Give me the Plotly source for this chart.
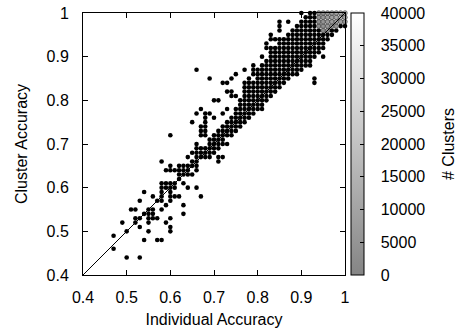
import plotly.graph_objects as go

# Individual accuracy (%) columns and the cluster accuracy (%) values seen in each column
cols = [47, 49, 50, 51, 52, 53, 54, 55, 56, 57, 58, 59, 60, 61, 62, 63, 64, 65, 66, 67,
        68, 69, 70, 71, 72, 73, 74, 75, 76, 77, 78, 79, 80, 81, 82, 83, 84, 85, 86, 87,
        88, 89, 90, 91, 92, 93, 94, 95, 96, 97, 98, 99, 100]
col_y = [
    [46, 49],
    [52],
    [44, 50],
    [55],
    [52, 53, 55],
    [44, 51, 53, 57],
    [48, 54, 59],
    [50, 52, 53, 54, 55],
    [53, 54, 55, 58],
    [48, 53, 57],
    [48, 55, 57, 58, 59, 60, 61, 66],
    [52, 56, 60, 61, 64],
    [50, 51, 53, 57, 58, 59, 60, 61, 64, 65, 72],
    [58, 60, 61, 64],
    [58, 62, 63, 64, 65],
    [54, 56, 61, 63, 64, 65],
    [60, 63, 64, 65, 67],
    [63, 65, 66, 68, 75],
    [60, 64, 65, 66, 67, 68, 69, 70, 77, 87],
    [58, 67, 68, 69, 72, 73, 74, 78],
    [67, 68, 69, 72, 73, 74, 75, 76, 77],
    [67, 68, 69, 70, 71, 77, 85],
    [68, 69, 70, 71, 72, 76, 80],
    [66, 67, 69, 70, 71, 72, 73, 80],
    [67, 70, 71, 72, 73, 74, 77, 84],
    [70, 72, 73, 74, 75, 78, 82, 84],
    [72, 73, 74, 75, 76, 81, 82, 85],
    [73, 74, 75, 76, 77, 78, 81, 86],
    [74, 75, 76, 77, 78, 79, 80],
    [75, 76, 77, 78, 79, 80, 81, 82, 83, 84, 87],
    [76, 77, 78, 79, 80, 81, 82, 83, 84, 85],
    [77, 78, 79, 80, 81, 82, 83, 84, 86, 87, 88],
    [78, 79, 80, 81, 82, 83, 84, 85, 86, 87],
    [78, 79, 80, 81, 82, 83, 84, 85, 86, 87, 88, 90],
    [80, 81, 82, 83, 84, 85, 86, 87, 88, 89, 92, 93],
    [81, 82, 83, 84, 85, 86, 87, 88, 89, 90, 91, 92, 94, 95],
    [82, 83, 84, 85, 86, 87, 88, 89, 90, 91, 92, 94],
    [83, 84, 85, 86, 87, 88, 89, 90, 91, 92, 93, 94, 96, 97, 98],
    [84, 85, 86, 87, 88, 89, 90, 91, 92, 93, 94],
    [85, 86, 87, 88, 89, 90, 91, 92, 93, 94, 95, 98],
    [86, 87, 88, 89, 90, 91, 92, 93, 94, 95, 96],
    [86, 87, 88, 89, 90, 91, 92, 93, 94, 95, 96, 97],
    [87, 88, 89, 90, 91, 92, 93, 94, 95, 96, 97, 98, 100],
    [88, 89, 90, 91, 92, 93, 94, 95, 96, 97, 98, 99],
    [88, 89, 90, 91, 92, 93, 94, 95, 96, 97, 98, 99, 100],
    [84, 85, 90, 91, 92, 93, 94, 95, 96, 97, 98, 99, 100],
    [91, 92, 93, 94, 95, 96],
    [90, 92, 93, 94, 95],
    [94, 95],
    [95, 96],
    [96],
    [97],
    [97],
]

# High-count cells (grey points near the top-right corner)
hi_x = [94, 94, 94, 94, 95, 95, 95, 95, 95, 96, 96, 96, 96, 96,
        97, 97, 97, 97, 98, 98, 98, 98, 99, 99, 99, 100, 100, 100]
hi_y = [97, 98, 99, 100, 96, 97, 98, 99, 100, 96, 97, 98, 99, 100,
        97, 98, 99, 100, 97, 98, 99, 100, 98, 99, 100, 98, 99, 100]
hi_n = [2000, 3000, 3500, 3000, 3000, 4000, 5000, 5500, 4500, 3500, 5500, 6500, 7500, 6000,
        6000, 8000, 9000, 8500, 5500, 9500, 11000, 10000, 8500, 13000, 12000, 7000, 11000, 16000]

diag = [0.4, 1.0]
xticks = [0.4, 0.5, 0.6, 0.7, 0.8, 0.9, 1.0]
xtick_text = ["0.4", "0.5", "0.6", "0.7", "0.8", "0.9", "1"]
cb_ticks = [0, 5000, 10000, 15000, 20000, 25000, 30000, 35000, 40000]
cb_text = [str(v) for v in cb_ticks]

lo_x, lo_y = [], []
for c, ys in zip(cols, col_y):
    for v in ys:
        lo_x.append(c / 100)
        lo_y.append(v / 100)

FONT = "Liberation Sans, Arial, Helvetica, sans-serif"
FS = 16
MS = 4.6
gray_scale = [[0, "#858585"], [1, "#ffffff"]]
clear_scale = [[0, "rgba(0,0,0,0)"], [1, "rgba(0,0,0,0)"]]
cb_x = (351 - 83) / 262

fig = go.Figure()
fig.add_trace(go.Scatter(x=lo_x, y=lo_y, mode="markers", cliponaxis=False,
                         marker=dict(size=MS, color="black"), hoverinfo="skip"))
# high-count points: coloured bar with inside tick dashes, no labels
fig.add_trace(go.Scatter(
    x=[v / 100 for v in hi_x], y=[v / 100 for v in hi_y], mode="markers", cliponaxis=False,
    marker=dict(size=MS, color=hi_n, colorscale=gray_scale, cmin=0, cmax=40000,
                line=dict(color="#333333", width=0.6),
                showscale=True,
                colorbar=dict(
                    x=cb_x, xanchor="left", xpad=0,
                    y=0.5, yanchor="middle", len=1, lenmode="fraction", ypad=0,
                    thickness=13, outlinecolor="black", outlinewidth=1,
                    tickvals=cb_ticks, ticks="inside", ticklen=4, tickcolor="black",
                    showticklabels=False,
                ))))
# invisible twin bar that carries the labels
fig.add_trace(go.Scatter(
    x=[None], y=[None], mode="markers", hoverinfo="skip",
    marker=dict(size=1, color=[0], colorscale=clear_scale, cmin=0, cmax=40000,
                showscale=True,
                colorbar=dict(
                    x=cb_x, xanchor="left", xpad=0,
                    y=0.5, yanchor="middle", len=1, lenmode="fraction", ypad=0,
                    thickness=13, outlinewidth=0,
                    tickvals=cb_ticks, ticktext=cb_text,
                    ticks="outside", ticklen=14, tickcolor="rgba(0,0,0,0)",
                    tickfont=dict(family=FONT, size=FS, color="black"),
                ))))
fig.add_trace(go.Scatter(x=diag, y=diag, mode="lines",
                         line=dict(color="black", width=1), hoverinfo="skip"))

axis_common = dict(range=[0.4, 1.0], tickvals=xticks, ticktext=xtick_text,
                   ticks="inside", ticklen=5, tickcolor="black",
                   showline=True, linecolor="black", linewidth=1, mirror="ticks",
                   showgrid=False, zeroline=False,
                   tickfont=dict(family=FONT, size=FS, color="black"))

fig.update_layout(
    width=470, height=333,
    margin=dict(l=83, r=125, t=13, b=58, autoexpand=False),
    plot_bgcolor="white", paper_bgcolor="white",
    showlegend=False,
    font=dict(family=FONT, size=FS, color="black"),
    xaxis=dict(axis_common, title=dict(text="Individual Accuracy", standoff=8,
                                       font=dict(family=FONT, size=FS)),
               ticklabelstandoff=8),
    yaxis=dict(axis_common, title=dict(text="Cluster Accuracy", standoff=14,
                                       font=dict(family=FONT, size=FS)),
               ticklabelstandoff=10),
    annotations=[dict(text="# Clusters", textangle=-90, showarrow=False,
                      xref="paper", yref="paper", x=(448 - 83) / 262, y=0.5,
                      xanchor="center", yanchor="middle",
                      font=dict(family=FONT, size=FS, color="black"))],
)

fig.write_html("out.html")
